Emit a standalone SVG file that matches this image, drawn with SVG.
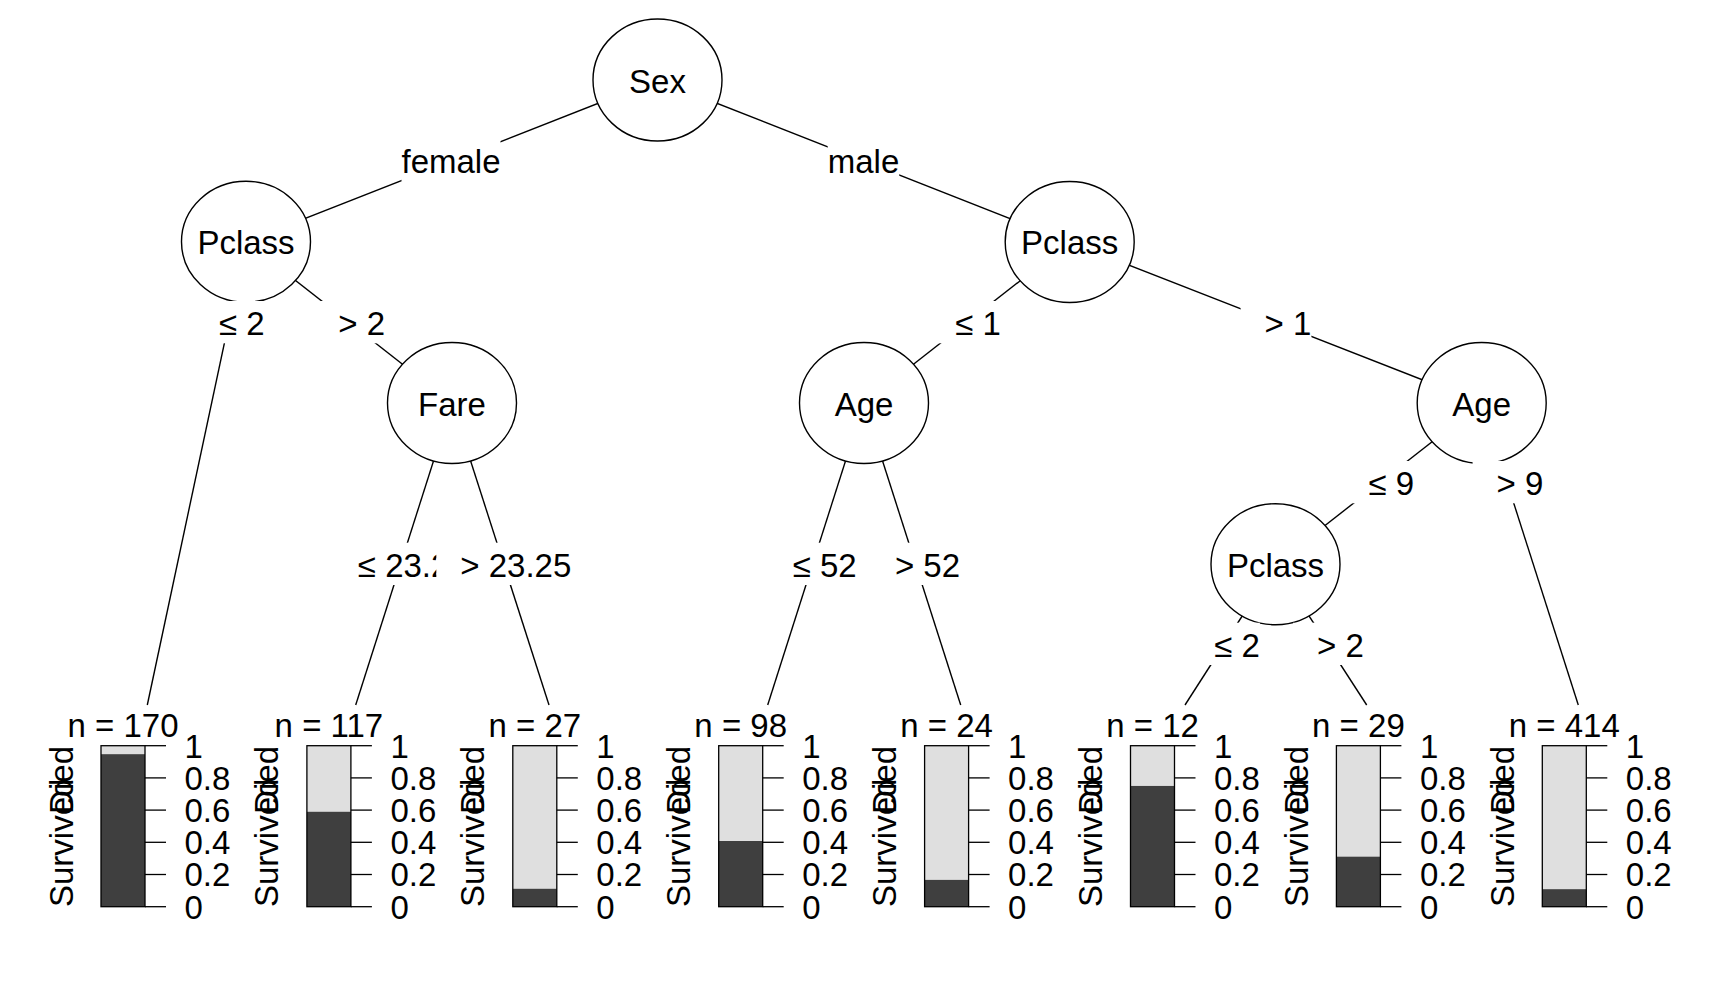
<svg xmlns="http://www.w3.org/2000/svg" width="1728" height="1008" viewBox="0 0 1728 1008">
<style>
text{font-family:"Liberation Sans",Arial,sans-serif;font-size:33px;fill:#000}
.c{text-anchor:middle}
.node ellipse{fill:#fff;stroke:#000;stroke-width:1.4}
#edges line{stroke:#000;stroke-width:1.4}
.lb{fill:#fff;stroke:none}
.light{fill:#dfdfdf}
.dark{fill:#3f3f3f}
.frame{fill:none;stroke:#000;stroke-width:1.3}
.tick{stroke:#000;stroke-width:1.3}
</style>
<rect width="1728" height="1008" fill="#fff"/>
<g id="edges">
<line x1="657.5" y1="80" x2="246" y2="241.7"/>
<line x1="657.5" y1="80" x2="1069.7" y2="242"/>
<line x1="246" y1="241.7" x2="147.3" y2="705"/>
<line x1="246" y1="241.7" x2="452" y2="403"/>
<line x1="452" y1="403" x2="355.7" y2="705"/>
<line x1="452" y1="403" x2="549" y2="705"/>
<line x1="1069.7" y1="242" x2="864" y2="403"/>
<line x1="1069.7" y1="242" x2="1481.7" y2="403"/>
<line x1="864" y1="403" x2="767.7" y2="705"/>
<line x1="864" y1="403" x2="960.7" y2="705"/>
<line x1="1481.7" y1="403" x2="1275.5" y2="564.2"/>
<line x1="1481.7" y1="403" x2="1578.3" y2="705"/>
<line x1="1275.5" y1="564.2" x2="1185" y2="705"/>
<line x1="1275.5" y1="564.2" x2="1366.7" y2="705"/>
</g>
<g id="node-sex" class="node"><ellipse cx="657.5" cy="80" rx="64.5" ry="61"/><text class="c" x="657.5" y="93">Sex</text></g>
<g id="node-pclass-l" class="node"><ellipse cx="246" cy="241.7" rx="64.5" ry="60.5"/><text class="c" x="246" y="254">Pclass</text></g>
<g id="node-pclass-r" class="node"><ellipse cx="1069.7" cy="242" rx="64.5" ry="60.5"/><text class="c" x="1069.7" y="254">Pclass</text></g>
<g id="node-fare" class="node"><ellipse cx="452" cy="403" rx="64.5" ry="60.5"/><text class="c" x="452" y="416">Fare</text></g>
<g id="node-age-m" class="node"><ellipse cx="864" cy="403" rx="64.5" ry="60.5"/><text class="c" x="864" y="416">Age</text></g>
<g id="node-age-r" class="node"><ellipse cx="1481.7" cy="403" rx="64.5" ry="60.5"/><text class="c" x="1481.7" y="416">Age</text></g>
<g id="node-pclass-low" class="node"><ellipse cx="1275.5" cy="564.2" rx="64.5" ry="60.5"/><text class="c" x="1275.5" y="577">Pclass</text></g>
<g id="edge-labels">
<rect class="lb" x="401.5" y="139.3" width="99" height="42.3"/><text class="c" x="451" y="173.3">female</text>
<rect class="lb" x="827.7" y="139.3" width="71.5" height="42.3"/><text class="c" x="863.5" y="173.3">male</text>
<rect class="lb" x="194.9" y="301" width="69.6" height="42.3"/><text class="c" x="241.7" y="335">≤ 2</text>
<rect class="lb" x="314.3" y="301" width="70.8" height="42.3"/><text class="c" x="361.7" y="335">&gt; 2</text>
<rect class="lb" x="931.2" y="301" width="69.6" height="42.3"/><text class="c" x="978" y="335">≤ 1</text>
<rect class="lb" x="1240.6" y="301" width="70.8" height="42.3"/><text class="c" x="1288" y="335">&gt; 1</text>
<rect class="lb" x="333.9" y="542.7" width="133.9" height="42.3"/><text class="c" x="412.8" y="576.7">≤ 23.25</text>
<rect class="lb" x="436.3" y="542.7" width="135" height="42.3"/><text class="c" x="515.8" y="576.7">&gt; 23.25</text>
<rect class="lb" x="768.7" y="542.7" width="88" height="42.3"/><text class="c" x="824.7" y="576.7">≤ 52</text>
<rect class="lb" x="871" y="542.7" width="89" height="42.3"/><text class="c" x="927.5" y="576.7">&gt; 52</text>
<rect class="lb" x="1344.5" y="461" width="69.6" height="42.3"/><text class="c" x="1391.3" y="495">≤ 9</text>
<rect class="lb" x="1472.6" y="461" width="70.8" height="42.3"/><text class="c" x="1520" y="495">&gt; 9</text>
<rect class="lb" x="1190.2" y="622.7" width="69.6" height="42.3"/><text class="c" x="1237" y="656.7">≤ 2</text>
<rect class="lb" x="1293.1" y="622.7" width="70.8" height="42.3"/><text class="c" x="1340.5" y="656.7">&gt; 2</text>
</g>
<defs>
<g id="axis">
<line class="tick" x1="44" y1="906.7" x2="65" y2="906.7"/>
<line class="tick" x1="44" y1="874.5" x2="65" y2="874.5"/>
<line class="tick" x1="44" y1="842.3" x2="65" y2="842.3"/>
<line class="tick" x1="44" y1="810.1" x2="65" y2="810.1"/>
<line class="tick" x1="44" y1="777.9" x2="65" y2="777.9"/>
<line class="tick" x1="44" y1="745.7" x2="65" y2="745.7"/>
<text x="83.5" y="918.5">0</text>
<text x="83.5" y="886.3">0.2</text>
<text x="83.5" y="854.1">0.4</text>
<text x="83.5" y="821.9">0.6</text>
<text x="83.5" y="789.7">0.8</text>
<text x="83.5" y="757.5">1</text>
<text transform="translate(-28.5,907) rotate(-90)">Survived</text>
<text transform="translate(-28.5,746) rotate(-90)" text-anchor="end">Died</text>
</g>
</defs>
<g id="leaf-1" transform="translate(101,0)"><text class="c" x="22" y="736.7">n = 170</text><rect class="light" x="0" y="745.7" width="44" height="161"/><rect class="dark" x="0" y="754.2" width="44" height="152.5"/><rect class="frame" x="0" y="745.7" width="44" height="161"/><use href="#axis"/></g>
<g id="leaf-2" transform="translate(306.9,0)"><text class="c" x="22" y="736.7">n = 117</text><rect class="light" x="0" y="745.7" width="44" height="161"/><rect class="dark" x="0" y="811.8" width="44" height="94.9"/><rect class="frame" x="0" y="745.7" width="44" height="161"/><use href="#axis"/></g>
<g id="leaf-3" transform="translate(512.8,0)"><text class="c" x="22" y="736.7">n = 27</text><rect class="light" x="0" y="745.7" width="44" height="161"/><rect class="dark" x="0" y="888.8" width="44" height="17.9"/><rect class="frame" x="0" y="745.7" width="44" height="161"/><use href="#axis"/></g>
<g id="leaf-4" transform="translate(718.7,0)"><text class="c" x="22" y="736.7">n = 98</text><rect class="light" x="0" y="745.7" width="44" height="161"/><rect class="dark" x="0" y="841" width="44" height="65.7"/><rect class="frame" x="0" y="745.7" width="44" height="161"/><use href="#axis"/></g>
<g id="leaf-5" transform="translate(924.6,0)"><text class="c" x="22" y="736.7">n = 24</text><rect class="light" x="0" y="745.7" width="44" height="161"/><rect class="dark" x="0" y="879.9" width="44" height="26.8"/><rect class="frame" x="0" y="745.7" width="44" height="161"/><use href="#axis"/></g>
<g id="leaf-6" transform="translate(1130.5,0)"><text class="c" x="22" y="736.7">n = 12</text><rect class="light" x="0" y="745.7" width="44" height="161"/><rect class="dark" x="0" y="785.95" width="44" height="120.75"/><rect class="frame" x="0" y="745.7" width="44" height="161"/><use href="#axis"/></g>
<g id="leaf-7" transform="translate(1336.4,0)"><text class="c" x="22" y="736.7">n = 29</text><rect class="light" x="0" y="745.7" width="44" height="161"/><rect class="dark" x="0" y="856.7" width="44" height="50"/><rect class="frame" x="0" y="745.7" width="44" height="161"/><use href="#axis"/></g>
<g id="leaf-8" transform="translate(1542.3,0)"><text class="c" x="22" y="736.7">n = 414</text><rect class="light" x="0" y="745.7" width="44" height="161"/><rect class="dark" x="0" y="889.2" width="44" height="17.5"/><rect class="frame" x="0" y="745.7" width="44" height="161"/><use href="#axis"/></g>
</svg>
